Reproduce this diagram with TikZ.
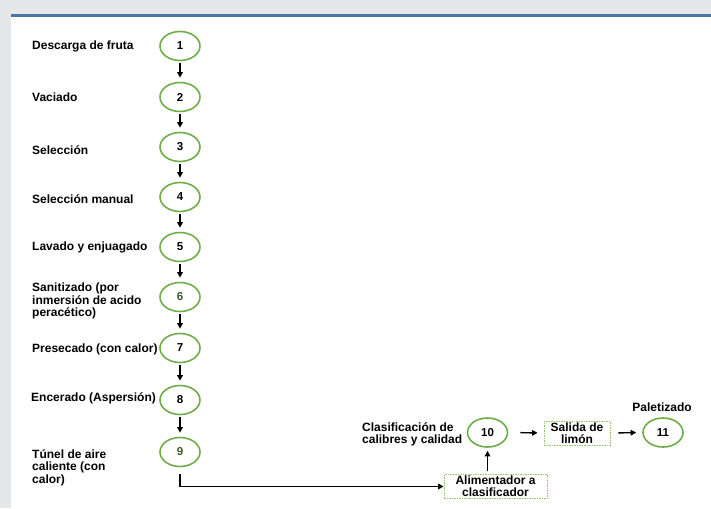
\documentclass[tikz,border=0pt]{standalone}
\usepackage{fontspec}
\setmainfont{Liberation Sans}
\usetikzlibrary{arrows.meta,shapes.geometric}
\definecolor{bggrey}{HTML}{E6E7E9}
\definecolor{topblue}{HTML}{4A76A8}
\definecolor{cgreen}{HTML}{70AD47}
\definecolor{dgreen}{HTML}{3B5A2C}
\definecolor{lgreen}{HTML}{8ECB6A}
\tikzset{
  stepcirc/.style={ellipse, draw=cgreen, line width=1.6pt, minimum width=40pt, minimum height=29pt, inner sep=0pt, font=\fontsize{11.5}{12}\selectfont\bfseries},
  lbl/.style={anchor=west, align=left, inner sep=0pt, font=\fontsize{12}{12.5}\selectfont\bfseries},
  dbox/.style={draw=lgreen, line width=0.8pt, dash pattern=on 1.5pt off 1pt, align=center, inner sep=0pt, font=\fontsize{12}{12}\selectfont\bfseries},
  arr/.style={line width=1.4pt, -{Triangle[length=5.5pt,width=5.5pt]}},
}
\begin{document}
\begin{tikzpicture}[x=1pt,y=-1pt]
\useasboundingbox (0,0) rectangle (711,508);
\fill[bggrey] (0,0) rectangle (711,508);
\fill[white] (11,16) rectangle (711,508);
\fill[topblue] (11,14.3) rectangle (711,17.3);
% circles
\node[stepcirc] (c1) at (180,46) {1};
\node[stepcirc] (c2) at (180,97) {2};
\node[stepcirc] (c3) at (180,147) {3};
\node[stepcirc] (c4) at (180,197) {4};
\node[stepcirc] (c5) at (180,247) {5};
\node[stepcirc, text=dgreen] (c6) at (180,297) {6};
\node[stepcirc] (c7) at (180,348) {7};
\node[stepcirc] (c8) at (180,400) {8};
\node[stepcirc, text=dgreen] (c9) at (180,452) {9};
\node[stepcirc] (c10) at (487.5,432.5) {10};
\node[stepcirc] (c11) at (663,432.5) {11};
% labels
\node[lbl] (l1) at (32,46.5) {Descarga de fruta};
\node[lbl] (l2) at (32,97.5) {Vaciado};
\node[lbl] (l3) at (32,150) {Selección};
\node[lbl] (l4) at (32,199) {Selección manual};
\node[lbl] (l5) at (32,247) {Lavado y enjuagado};
\node[lbl] (l6) at (32,301) {Sanitizado (por\\inmersión de acido\\peracético)};
\node[lbl] (l7) at (32,349.5) {Presecado (con calor)};
\node[lbl] (l8) at (31,398.5) {Encerado (Aspersión)};
\node[lbl] (l9) at (32,467.5) {Túnel de aire\\caliente (con\\calor)};
\node[lbl] (l10) at (362,434.5) {Clasificación de\\calibres y calidad};
\node[font=\fontsize{12}{12}\selectfont\bfseries, inner sep=0pt] (l11) at (662,407.5) {Paletizado};
% boxes
\node[dbox, minimum width=66pt, minimum height=24pt] (sal) at (577,433) {Salida de\\limón};
\node[dbox, minimum width=103pt, minimum height=24pt] (alim) at (495.5,486.5) {Alimentador a\\clasificador};
% arrows
\foreach \a/\b in {c1/c2,c2/c3,c3/c4,c4/c5,c5/c6,c6/c7,c7/c8,c8/c9}
  \draw[arr, shorten <=2pt, shorten >=4pt] (\a) -- (\b);
\draw[arr] ([yshift=-6.5pt]c9.south) |- (alim.west);
\draw[arr, shorten <=3pt, shorten >=3pt] (alim.north -| c10) -- (c10.south);
\draw[arr, shorten <=12pt, shorten >=6pt] (c10.east) -- (sal.west);
\draw[arr, shorten <=8pt, shorten >=6pt] (sal.east) -- (c11.west);
\end{tikzpicture}
\end{document}
